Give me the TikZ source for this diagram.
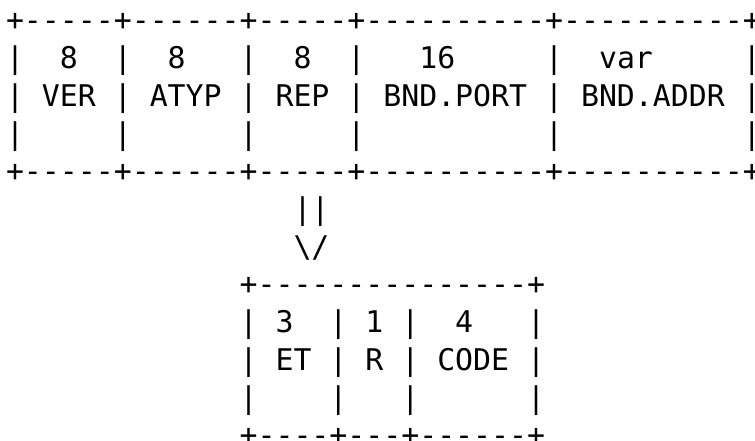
\documentclass[tikz,border=0pt]{standalone}
\usepackage{fontspec}
\newfontfamily\asciifont{DejaVu Sans Mono}[Ligatures=TeXOff]
\begin{document}
\begin{tikzpicture}[x=1pt,y=1pt,
  ascii/.style={anchor=base west, inner sep=0pt, outer sep=0pt,
    font=\asciifont\fontsize{29.85pt}{37.7pt}\selectfont}]
\def\cw{17.97}
\def\lh{37.7}
\def\xo{6}
\def\yo{31}
\useasboundingbox (0,0) rectangle (755,-441);
% upper record
\node[ascii] (r0)  at ({\xo},{-(\yo+0*\lh)}) {+-----+------+-----+----------+----------+};
\node[ascii] (r1)  at ({\xo},{-(\yo+1*\lh)}) {|~~8~~|~~8~~~|~~8~~|~~~16~~~~~|~~var~~~~~|};
\node[ascii] (r2)  at ({\xo},{-(\yo+2*\lh)}) {|~VER~|~ATYP~|~REP~|~BND.PORT~|~BND.ADDR~|};
\node[ascii] (r3)  at ({\xo},{-(\yo+3*\lh)}) {|~~~~~|~~~~~~|~~~~~|~~~~~~~~~~|~~~~~~~~~~|};
\node[ascii] (r4)  at ({\xo},{-(\yo+4*\lh)}) {+-----+------+-----+----------+----------+};
% arrow
\node[ascii] (r5)  at ({\xo+16*\cw},{-(\yo+5*\lh)}) {||};
\node[ascii] (r6)  at ({\xo+16*\cw},{-(\yo+6*\lh)}) {\textbackslash/};
% lower record
\node[ascii] (r7)  at ({\xo+13*\cw},{-(\yo+7*\lh)}) {+---------------+};
\node[ascii] (r8)  at ({\xo+13*\cw},{-(\yo+8*\lh)}) {|~3~~|~1~|~~4~~~|};
\node[ascii] (r9)  at ({\xo+13*\cw},{-(\yo+9*\lh)}) {|~ET~|~R~|~CODE~|};
\node[ascii] (r10) at ({\xo+13*\cw},{-(\yo+10*\lh)}) {|~~~~|~~~|~~~~~~|};
\node[ascii] (r11) at ({\xo+13*\cw},{-(\yo+11*\lh)}) {+----+---+------+};
\end{tikzpicture}
\end{document}
